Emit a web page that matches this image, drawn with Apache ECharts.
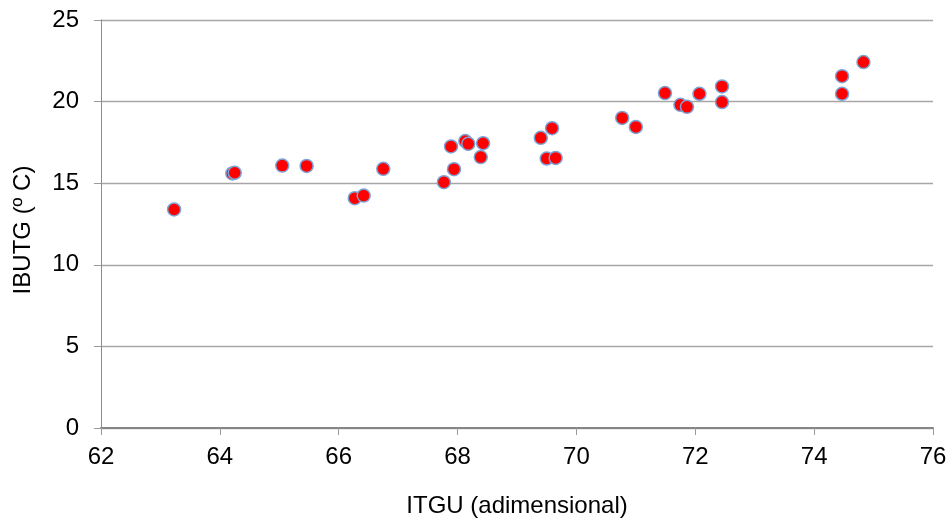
<!DOCTYPE html>
<html><head><meta charset="utf-8">
<script src="https://cdn.jsdelivr.net/npm/echarts@6/dist/echarts.min.js"></script>
<style>html,body{margin:0;padding:0;background:#fff}#c{width:950px;height:520px}</style>
</head><body><div id="c"></div>
<script>
const itgu = [63.23, 64.21, 64.25, 65.05, 65.46, 66.27, 66.42, 66.75, 67.77, 67.94, 67.89, 68.13, 68.18, 68.43, 68.39, 69.40, 69.59, 69.50, 69.65, 70.77, 71.00, 71.49, 71.75, 71.86, 72.07, 72.45, 72.45, 74.47, 74.47, 74.83];
const ibutg = [13.39, 15.60, 15.64, 16.08, 16.06, 14.08, 14.24, 15.88, 15.06, 15.86, 17.25, 17.58, 17.41, 17.45, 16.60, 17.78, 18.37, 16.51, 16.55, 19.00, 18.45, 20.52, 19.80, 19.68, 20.48, 20.93, 19.97, 21.56, 20.48, 22.42];
const xTicks = [62, 64, 66, 68, 70, 72, 74, 76];
const yTicks = [0, 5, 10, 15, 20, 25];
const xName = 'ITGU (adimensional)';
const yName = 'IBUTG (º C)';

const data = itgu.map((x, i) => [x, ibutg[i]]);
const chart = echarts.init(document.getElementById('c'));
const font = 'Liberation Sans, Arial, sans-serif';
chart.setOption({
  animation: false,
  grid: {left: 101, right: 17, top: 20, bottom: 92, containLabel: false, outerBoundsMode: 'none'},
  xAxis: {
    type: 'value', min: xTicks[0], max: xTicks[xTicks.length - 1], interval: 2,
    name: xName, nameLocation: 'middle', nameGap: 66,
    nameTextStyle: {fontFamily: font, fontSize: 24, color: '#000'},
    axisLine: {show: true, lineStyle: {color: '#868686', width: 2}},
    axisTick: {show: true, length: 7, lineStyle: {color: '#9a9a9a'}},
    axisLabel: {fontFamily: font, fontSize: 24, color: '#000', margin: 17},
    splitLine: {show: false}
  },
  yAxis: {
    type: 'value', min: yTicks[0], max: yTicks[yTicks.length - 1], interval: 5,
    name: yName, nameLocation: 'middle', nameGap: 66,
    nameTextStyle: {fontFamily: font, fontSize: 24, color: '#000', padding: [0, 12, 0, 0]},
    axisLine: {show: true, lineStyle: {color: '#8c8c8c', width: 1}},
    axisTick: {show: true, length: 7, lineStyle: {color: '#9a9a9a'}},
    axisLabel: {fontFamily: font, fontSize: 24, color: '#000', margin: 22},
    splitLine: {show: true, lineStyle: {color: '#a6a6a6', width: 1.3}}
  },
  series: [{
    type: 'scatter', data: data, symbol: 'circle', symbolSize: 13,
    itemStyle: {color: '#ff0000', borderColor: '#7ba3d6', borderWidth: 1.5, opacity: 1}
  }]
});
</script></body></html>
